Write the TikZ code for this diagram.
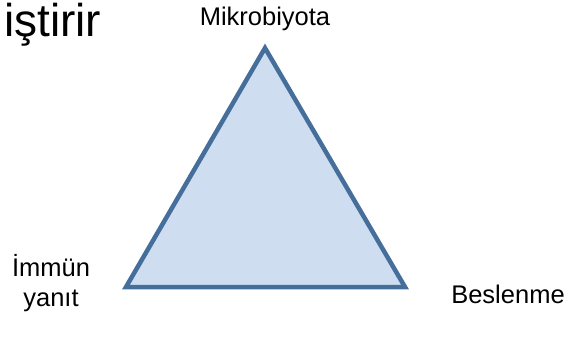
\documentclass[tikz,border=0pt]{standalone}
\usepackage{fontspec}
\setmainfont{Liberation Sans}
\usetikzlibrary{positioning}
\definecolor{edgeblue}{RGB}{70,110,155}
\definecolor{fillblue}{RGB}{206,222,240}

\begin{document}
\begin{tikzpicture}[
  x=1pt, y=-1pt,
  every node/.style={font=\fontsize{25.5}{30}\selectfont, inner sep=0pt}
]
  \useasboundingbox (0,0) rectangle (572,339);

  % title text at the top edge
  \node[anchor=base west, font=\fontsize{46}{52}\selectfont] (title) at (4,37) {iştirir};

  % triangle corners
  \coordinate (top) at (265,48);
  \coordinate (left) at (126,287);
  \coordinate (right) at (405,287);
  \filldraw[fill=fillblue, draw=edgeblue, line width=4.5pt] (top) -- (left) -- (right) -- cycle;

  \node[anchor=base] (mikro) at (265,26) {Mikrobiyota};
  \node[anchor=base] (immun) at (51,276) {İmmün};
  \node[anchor=base] (yanit) at (51,306) {yanıt};
  \node[anchor=base] (besl) at (508,303) {Beslenme};
\end{tikzpicture}
\end{document}
